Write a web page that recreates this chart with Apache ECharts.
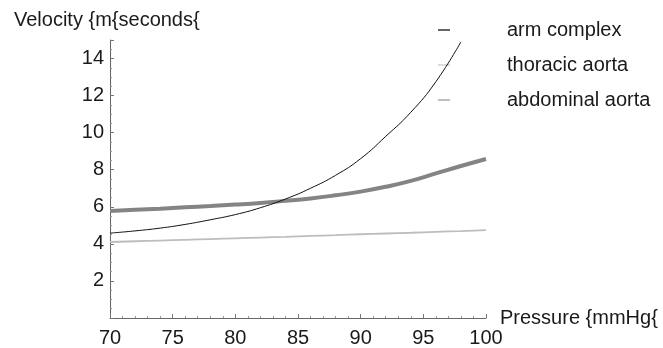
<!DOCTYPE html>
<html>
<head>
<meta charset="utf-8">
<script src="https://cdn.jsdelivr.net/npm/echarts@6/dist/echarts.min.js"></script>
<style>
  html, body { margin: 0; padding: 0; background: #fff; }
  #chart { width: 663px; height: 348px; }
</style>
</head>
<body>
<div id="chart"></div>
<script>
// pressure (mmHg) sampled every 2
const pressure = [70, 72, 74, 76, 78, 80, 82, 84, 86, 88, 90, 92, 94, 96, 98, 100];

// velocities (m/s)
const armComplex = [4.58, 4.70, 4.85, 5.05, 5.30, 5.58, 5.95, 6.42, 7.00, 7.70, 8.60, 9.80, 11.10, 12.75, 14.90];
const thoracicAorta = [4.10, 4.14, 4.18, 4.22, 4.26, 4.30, 4.34, 4.38, 4.43, 4.47, 4.52, 4.56, 4.60, 4.65, 4.69, 4.74];
const abdominalAorta = [5.78, 5.84, 5.90, 5.97, 6.04, 6.12, 6.21, 6.32, 6.45, 6.62, 6.82, 7.08, 7.40, 7.80, 8.20, 8.58];

const seriesNames = ['arm complex', 'thoracic aorta', 'abdominal aorta'];
const xTicks = [70, 75, 80, 85, 90, 95, 100];
const yTicks = [2, 4, 6, 8, 10, 12, 14];

const pairs = (ys) => ys.map((v, i) => [pressure[i], v]);

const font = 'Liberation Sans, Arial, sans-serif';

window.addEventListener('DOMContentLoaded', () => {
    const myChart = echarts.init(document.getElementById('chart'));

    myChart.setOption({
        animation: false,
        backgroundColor: '#fff',
        textStyle: { fontFamily: font },
        grid: {
            left: 110,
            right: 177,
            top: 40,
            bottom: 28
        },
        legend: {
            orient: 'vertical',
            left: 433,
            top: 15,
            icon: 'rect',
            itemWidth: 12,
            itemHeight: 1.5,
            itemGap: 15,
            textStyle: {
                fontFamily: font,
                fontSize: 20,
                lineHeight: 20,
                color: '#1a1a1a',
                padding: [0, 0, 0, 52]
            },
            data: seriesNames
        },
        xAxis: {
            type: 'value',
            min: 70,
            max: 100,
            interval: 5,
            name: 'Pressure {mmHg{',
            nameLocation: 'end',
            nameGap: 14,
            nameTextStyle: {
                fontFamily: font,
                fontSize: 20,
                color: '#1a1a1a',
                verticalAlign: 'middle',
                padding: [0, 0, 16, 0]
            },
            axisLine: { lineStyle: { color: '#666', width: 1 } },
            axisTick: { inside: true, length: 4, lineStyle: { color: '#777' } },
            minorTick: { show: true, splitNumber: 5, length: 2, lineStyle: { color: '#999' } },
            axisLabel: {
                fontFamily: font,
                fontSize: 20,
                color: '#1a1a1a',
                margin: 10,
                formatter: v => xTicks.includes(v) ? String(v) : ''
            },
            splitLine: { show: false }
        },
        yAxis: {
            type: 'value',
            min: 0,
            max: 15,
            interval: 2,
            name: 'Velocity {m{seconds{',
            nameLocation: 'end',
            nameGap: 10,
            nameTextStyle: {
                fontFamily: font,
                fontSize: 20,
                color: '#1a1a1a',
                align: 'left',
                padding: [0, 0, 0, -96]
            },
            axisLine: { show: true, lineStyle: { color: '#666', width: 1 } },
            axisTick: { show: true, inside: true, length: 4, lineStyle: { color: '#777' } },
            minorTick: { show: true, splitNumber: 4, length: 2, lineStyle: { color: '#999' } },
            axisLabel: {
                fontFamily: font,
                fontSize: 20,
                color: '#1a1a1a',
                margin: 6,
                formatter: v => yTicks.includes(v) ? String(v) : ''
            },
            splitLine: { show: false }
        },
        series: [
            {
                name: seriesNames[0],
                type: 'line',
                data: pairs(armComplex),
                showSymbol: false,
                smooth: 0.5,
                color: '#333',
                lineStyle: { width: 1, color: '#111' },
                z: 4
            },
            {
                name: seriesNames[1],
                type: 'line',
                data: pairs(thoracicAorta),
                showSymbol: false,
                smooth: 0.5,
                color: '#d0d0d0',
                lineStyle: { width: 1.8, color: '#bdbdbd' },
                z: 2
            },
            {
                name: seriesNames[2],
                type: 'line',
                data: pairs(abdominalAorta),
                showSymbol: false,
                smooth: 0.5,
                color: '#aaa',
                lineStyle: { width: 4, color: '#848484' },
                z: 3
            }
        ]
    });
});
</script>
</body>
</html>
